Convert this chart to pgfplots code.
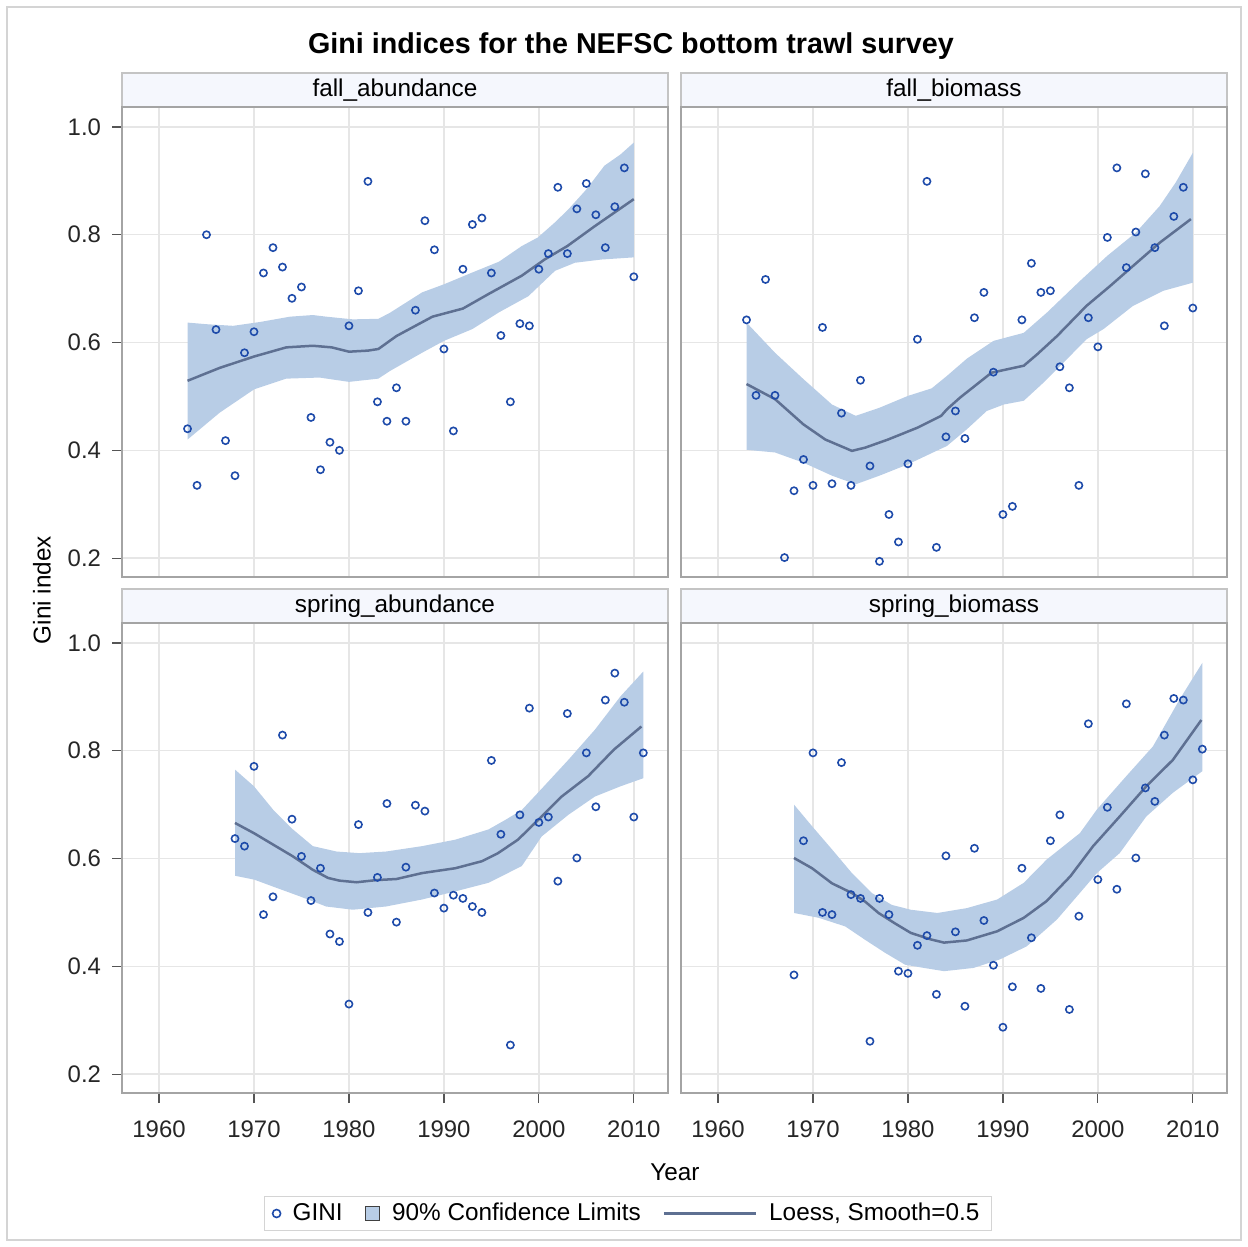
\documentclass[border=0pt]{standalone}
\usepackage{fontspec}
\setmainfont{Liberation Sans}
\usepackage{pgfplots}
\usepackage{pgfplotstable}
\pgfplotsset{compat=1.18}
\definecolor{bandcol}{HTML}{B8CDE6}
\definecolor{linecol}{HTML}{5E7092}
\definecolor{markcol}{HTML}{1E4BAA}
\definecolor{gridcol}{HTML}{E6E6E6}
\definecolor{framecol}{HTML}{A4A4A4}
\definecolor{headfill}{HTML}{F5F7FD}
\definecolor{headline}{HTML}{C4C4C4}
\definecolor{outercol}{HTML}{D4D4D4}
\definecolor{tickcol}{HTML}{555555}

\pgfplotstableread{
year gini
1963 0.440
1964 0.335
1965 0.800
1966 0.624
1967 0.418
1968 0.353
1969 0.581
1970 0.620
1971 0.729
1972 0.776
1973 0.740
1974 0.682
1975 0.703
1976 0.461
1977 0.364
1978 0.415
1979 0.400
1980 0.631
1981 0.696
1982 0.899
1983 0.490
1984 0.454
1985 0.516
1986 0.454
1987 0.660
1988 0.826
1989 0.772
1990 0.588
1991 0.436
1992 0.736
1993 0.819
1994 0.831
1995 0.729
1996 0.613
1997 0.490
1998 0.635
1999 0.631
2000 0.736
2001 0.765
2002 0.888
2003 0.765
2004 0.848
2005 0.895
2006 0.837
2007 0.776
2008 0.852
2009 0.924
2010 0.722
}\fallab

\pgfplotstableread{
year gini
1963 0.642
1964 0.502
1965 0.717
1966 0.502
1967 0.201
1968 0.325
1969 0.383
1970 0.335
1971 0.628
1972 0.338
1973 0.469
1974 0.335
1975 0.530
1976 0.371
1977 0.194
1978 0.281
1979 0.230
1980 0.375
1981 0.606
1982 0.899
1983 0.220
1984 0.425
1985 0.473
1986 0.422
1987 0.646
1988 0.693
1989 0.545
1990 0.281
1991 0.296
1992 0.642
1993 0.747
1994 0.693
1995 0.696
1996 0.555
1997 0.516
1998 0.335
1999 0.646
2000 0.592
2001 0.795
2002 0.924
2003 0.739
2004 0.805
2005 0.913
2006 0.776
2007 0.631
2008 0.834
2009 0.888
2010 0.664
}\fallbio

\pgfplotstableread{
year gini
1968 0.637
1969 0.623
1970 0.771
1971 0.496
1972 0.529
1973 0.829
1974 0.673
1975 0.604
1976 0.522
1977 0.582
1978 0.460
1979 0.446
1980 0.330
1981 0.663
1982 0.500
1983 0.565
1984 0.702
1985 0.482
1986 0.584
1987 0.699
1988 0.688
1989 0.536
1990 0.508
1991 0.532
1992 0.526
1993 0.511
1994 0.500
1995 0.782
1996 0.645
1997 0.254
1998 0.681
1999 0.879
2000 0.667
2001 0.677
2002 0.558
2003 0.869
2004 0.601
2005 0.796
2006 0.696
2007 0.894
2008 0.944
2009 0.890
2010 0.677
2011 0.796
}\sprab

\pgfplotstableread{
year gini
1968 0.384
1969 0.633
1970 0.796
1971 0.500
1972 0.496
1973 0.778
1974 0.533
1975 0.526
1976 0.261
1977 0.526
1978 0.496
1979 0.391
1980 0.387
1981 0.439
1982 0.457
1983 0.348
1984 0.605
1985 0.464
1986 0.326
1987 0.619
1988 0.485
1989 0.402
1990 0.287
1991 0.362
1992 0.582
1993 0.453
1994 0.359
1995 0.633
1996 0.681
1997 0.320
1998 0.493
1999 0.850
2000 0.561
2001 0.695
2002 0.543
2003 0.887
2004 0.601
2005 0.731
2006 0.706
2007 0.829
2008 0.897
2009 0.894
2010 0.746
2011 0.803
}\sprbio

\pgfplotsset{
  panel/.style={
    scale only axis, width=273bp, height=235bp, anchor=south west,
    xmin=1956.1, xmax=2013.6, ymin=0.165, ymax=1.037,
    xtick={1960,1970,1980,1990,2000,2010},
    ytick={0.2,0.4,0.6,0.8,1.0},
    grid=major, grid style={draw=gridcol, line width=0.7bp},
    axis line style={draw=framecol, line width=0.8bp},
    tick align=outside, tick pos=left, major tick length=5bp,
    tick style={draw=tickcol, line width=0.6bp},
    tick label style={font=\fontsize{12}{14}\selectfont, text=black!85},
    /pgf/number format/assume math mode=true,
    /pgf/number format/1000 sep={},
    yticklabel style={/pgf/number format/fixed, /pgf/number format/fixed zerofill, /pgf/number format/precision=1, xshift=-2bp},
    xticklabel style={yshift=-5.5bp},
  },
  notx/.style={xticklabels={}, xtick style={draw=none}},
  noty/.style={yticklabels={}, ytick style={draw=none}},
  band/.style={fill=bandcol, draw=none, forget plot},
  loess/.style={draw=linecol, line width=1.25bp, no marks, forget plot},
  gini/.style={only marks, mark=o, mark size=1.8bp, mark options={draw=markcol, line width=0.8bp, fill=none}, forget plot},
}

\begin{document}
\begin{tikzpicture}
\useasboundingbox (0,0) rectangle (624bp,623.5bp);
\draw[outercol, line width=0.6bp] (3.5bp,3.5bp) rectangle (620.5bp,620bp);

\node[font=\fontsize{14.4}{17}\selectfont\bfseries] at (315.5bp,600.5bp) {Gini indices for the NEFSC bottom trawl survey};

% panel headers
\filldraw[fill=headfill, draw=headline, line width=0.6bp] (61bp,570bp) rectangle (334bp,587bp);
\node[font=\fontsize{12.2}{14}\selectfont] at (197.5bp,578.5bp) {fall\_abundance};
\filldraw[fill=headfill, draw=headline, line width=0.6bp] (340.5bp,570bp) rectangle (613.5bp,587bp);
\node[font=\fontsize{12.2}{14}\selectfont] at (477bp,578.5bp) {fall\_biomass};
\filldraw[fill=headfill, draw=headline, line width=0.6bp] (61bp,312bp) rectangle (334bp,329bp);
\node[font=\fontsize{12.2}{14}\selectfont] at (197.5bp,320.5bp) {spring\_abundance};
\filldraw[fill=headfill, draw=headline, line width=0.6bp] (340.5bp,312bp) rectangle (613.5bp,329bp);
\node[font=\fontsize{12.2}{14}\selectfont] at (477bp,320.5bp) {spring\_biomass};

% fall_abundance
\begin{axis}[panel, notx, at={(61bp,335bp)}]
\addplot[band] coordinates {(1963,0.637) (1965,0.634) (1967.8,0.631) (1970.6,0.638) (1973.8,0.648) (1976.2,0.651) (1977.6,0.648) (1980.4,0.643) (1983.1,0.644) (1984.3,0.655) (1987.7,0.693) (1990,0.708) (1993,0.730) (1995.8,0.750) (1998.2,0.779) (1999.9,0.795) (2001.7,0.823) (2003.1,0.847) (2005,0.884) (2006.9,0.928) (2008.6,0.949) (2010,0.971)
 (2010,0.758) (2006.6,0.754) (2003.8,0.748) (2001.7,0.733) (1998.9,0.686) (1995.8,0.656) (1993,0.625) (1990,0.603) (1987.7,0.581) (1984.3,0.547) (1983.1,0.533) (1980,0.527) (1976.9,0.535) (1973.4,0.533) (1970,0.513) (1966.4,0.470) (1963,0.420)};
\addplot[loess] coordinates {(1963,0.529) (1966.4,0.553) (1970,0.574) (1973.4,0.591) (1976.2,0.594) (1978.2,0.591) (1980,0.583) (1982,0.585) (1983.1,0.588) (1985,0.612) (1987,0.631) (1988.8,0.648) (1992,0.663) (1994.7,0.690) (1998.2,0.724) (2000.6,0.754) (2003,0.779) (2005.9,0.816) (2010,0.866)};
\addplot[gini] table[x=year,y=gini] {\fallab};
\end{axis}

% fall_biomass
\begin{axis}[panel, notx, noty, at={(340.5bp,335bp)}]
\addplot[band] coordinates {(1963,0.637) (1966,0.581) (1969,0.532) (1972,0.485) (1974.5,0.464) (1977,0.479) (1980,0.501) (1982.5,0.515) (1984.1,0.538) (1986.2,0.570) (1989,0.603) (1992.2,0.618) (1994.6,0.655) (1998.1,0.714) (2001,0.761) (2004,0.804) (2006.5,0.853) (2008.2,0.897) (2010,0.952)
 (2010,0.711) (2006.9,0.696) (2003.7,0.668) (2000.6,0.625) (1998.8,0.606) (1996.4,0.563) (1994.3,0.526) (1992.2,0.492) (1990.1,0.485) (1988.3,0.473) (1986.2,0.439) (1984.1,0.408) (1983,0.399) (1980,0.374) (1977,0.353) (1974.5,0.337) (1972,0.353) (1969,0.377) (1966,0.396) (1963,0.401)};
\addplot[loess] coordinates {(1963,0.523) (1966,0.495) (1969,0.448) (1971.3,0.420) (1974.1,0.399) (1975.5,0.405) (1977.9,0.420) (1981,0.442) (1983.5,0.464) (1984.1,0.476) (1985.5,0.498) (1988.8,0.544) (1992.2,0.557) (1993.6,0.578) (1995.7,0.612) (1998.8,0.668) (2001.3,0.705) (2003.7,0.742) (2006.5,0.785) (2009.8,0.829)};
\addplot[gini] table[x=year,y=gini] {\fallbio};
\end{axis}

% spring_abundance
\begin{axis}[panel, at={(61bp,77bp)},
  legend columns=3, legend cell align=left,
  legend style={at={(0.9267,-0.2564)}, anchor=center, draw=outercol, line width=0.6bp,
    font=\fontsize{12.2}{14}\selectfont, inner xsep=4bp, inner ysep=1.5bp,
    /tikz/every odd column/.append style={column sep=4bp},
    /tikz/every even column/.append style={column sep=9bp}}]
\addlegendimage{only marks, mark=o, mark size=2bp, mark options={draw=markcol, line width=0.8bp}}
\addlegendentry{GINI}
\addlegendimage{legend image code/.code={\draw[fill=bandcol, draw=black!75, line width=0.6bp] (0bp,-3.6bp) rectangle (7.2bp,3.6bp);}}
\addlegendentry{90\% Confidence Limits}
\addlegendimage{legend image code/.code={\draw[linecol, line width=1.25bp] (0bp,0bp) -- (46bp,0bp);}}
\addlegendentry{Loess, Smooth=0.5}
\addplot[band] coordinates {(1968,0.765) (1970,0.734) (1972,0.691) (1974.1,0.654) (1976.2,0.623) (1978.7,0.613) (1981.1,0.610) (1983.9,0.613) (1987.7,0.623) (1991.2,0.635) (1994.7,0.654) (1996.5,0.672) (1998.2,0.690) (1999.9,0.722) (2003.1,0.783) (2005.9,0.839) (2008.6,0.901) (2011,0.947)
 (2011,0.749) (2008.6,0.734) (2005.9,0.715) (2003.1,0.681) (2000.3,0.641) (1998.2,0.586) (1994.7,0.555) (1991.2,0.539) (1987.7,0.524) (1983.9,0.511) (1980.4,0.505) (1977.6,0.511) (1974.8,0.530) (1972,0.548) (1970,0.561) (1968,0.568)};
\addplot[loess] coordinates {(1968,0.666) (1970,0.647) (1972,0.626) (1974.1,0.604) (1976.2,0.579) (1977.8,0.564) (1979,0.559) (1980.8,0.556) (1982.9,0.560) (1985,0.562) (1987.7,0.573) (1991.2,0.582) (1994,0.595) (1995.7,0.610) (1997.8,0.635) (1999.6,0.666) (2002.4,0.715) (2005.2,0.753) (2007.9,0.802) (2010.8,0.845)};
\addplot[gini] table[x=year,y=gini] {\sprab};
\end{axis}

% spring_biomass
\begin{axis}[panel, noty, at={(340.5bp,77bp)}]
\addplot[band] coordinates {(1968,0.700) (1969.9,0.660) (1972,0.617) (1974.1,0.573) (1976.2,0.536) (1978.3,0.514) (1980.3,0.505) (1983.1,0.499) (1986.2,0.508) (1989.4,0.524) (1992.2,0.555) (1994.6,0.598) (1998.1,0.647) (1999.9,0.691) (2003,0.753) (2005.8,0.808) (2008.6,0.895) (2011,0.963)
 (2011,0.762) (2007.9,0.722) (2005.1,0.678) (2002.3,0.610) (1999.9,0.573) (1998.1,0.536) (1995.7,0.487) (1992.5,0.437) (1989.7,0.413) (1986.9,0.397) (1983.8,0.391) (1981.7,0.397) (1979.7,0.403) (1977.6,0.425) (1975.5,0.449) (1973.4,0.474) (1970.6,0.490) (1968,0.499)};
\addplot[loess] coordinates {(1968,0.601) (1969.9,0.582) (1972,0.554) (1974.1,0.536) (1975.5,0.520) (1976.9,0.499) (1978.6,0.480) (1980.3,0.462) (1982.4,0.450) (1983.8,0.444) (1986.2,0.448) (1989.4,0.465) (1992.2,0.490) (1994.6,0.521) (1997.1,0.567) (1999.5,0.623) (2002.3,0.678) (2005.1,0.734) (2007.9,0.783) (2010.9,0.857)};
\addplot[gini] table[x=year,y=gini] {\sprbio};
\end{axis}

\node[rotate=90, font=\fontsize{12.2}{14}\selectfont] at (21bp,328.5bp) {Gini index};
\node[font=\fontsize{12.2}{14}\selectfont] at (337.5bp,37.5bp) {Year};
\end{tikzpicture}
\end{document}
